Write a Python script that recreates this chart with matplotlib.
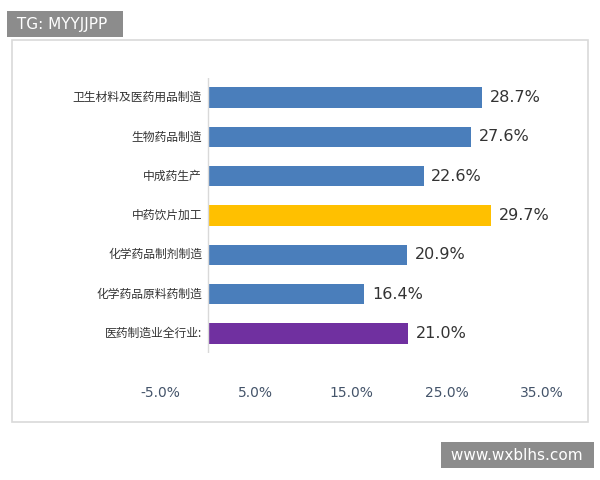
import matplotlib
matplotlib.use("Agg")
import matplotlib.pyplot as plt
from matplotlib.patches import Rectangle

plt.rcParams['font.family'] = ['Noto Sans CJK SC', 'DejaVu Sans']

categories = ["卫生材料及医药用品制造", "生物药品制造", "中成药生产", "中药饮片加工",
              "化学药品制剂制造", "化学药品原料药制造", "医药制造业全行业:"]
values = [28.7, 27.6, 22.6, 29.7, 20.9, 16.4, 21.0]
colors = ["#4a7ebb", "#4a7ebb", "#4a7ebb", "#ffc000", "#4a7ebb", "#4a7ebb", "#7030a0"]
ticks = [-5, 5, 15, 25, 35]
tick_labels = ["-5.0%", "5.0%", "15.0%", "25.0%", "35.0%"]

fig = plt.figure(figsize=(6, 4.8), dpi=100)
fig.patches.append(Rectangle((12/600, 1-422/480), 576/600, 382/480, transform=fig.transFigure,
                             fill=False, edgecolor="#d9d9d9", lw=1.2))
ax = fig.add_axes([160/600, 1-353/480, 382/600, 275/480])
ys = list(range(len(categories)))[::-1]
ax.barh(ys, values, height=0.52, color=colors)
for y, v, c in zip(ys, values, categories):
    ax.text(v + 0.8, y, f"{v:.1f}%", va="center", ha="left", fontsize=11.5, color="#333333",
            family=["DejaVu Sans"])
    ax.text(-0.6, y, c, va="center", ha="right", fontsize=8.5, color="#333333")
ax.axvline(0, color="#d9d9d9", lw=1)
ax.set_xlim(-5, 35)
ax.set_ylim(-0.5, 6.5)
ax.set_xticks(ticks)
ax.set_xticklabels(tick_labels, fontsize=10, color="#44546a", family=["DejaVu Sans"])
ax.tick_params(axis="x", length=0, pad=24)
ax.set_yticks([])
for s in ax.spines.values():
    s.set_visible(False)

fig.text(12/600, 1-24/480, " TG: MYYJJPP  ", fontsize=11, color="white", va="center", ha="left",
         family=["DejaVu Sans"], bbox=dict(facecolor="#8c8c8c", edgecolor="none", pad=4))
fig.text(588/600, 1-455/480, " www.wxblhs.com ", fontsize=11, color="white", va="center", ha="right",
         family=["DejaVu Sans"], bbox=dict(facecolor="#8c8c8c", edgecolor="none", pad=4))
fig.savefig("out.png", dpi=100)
